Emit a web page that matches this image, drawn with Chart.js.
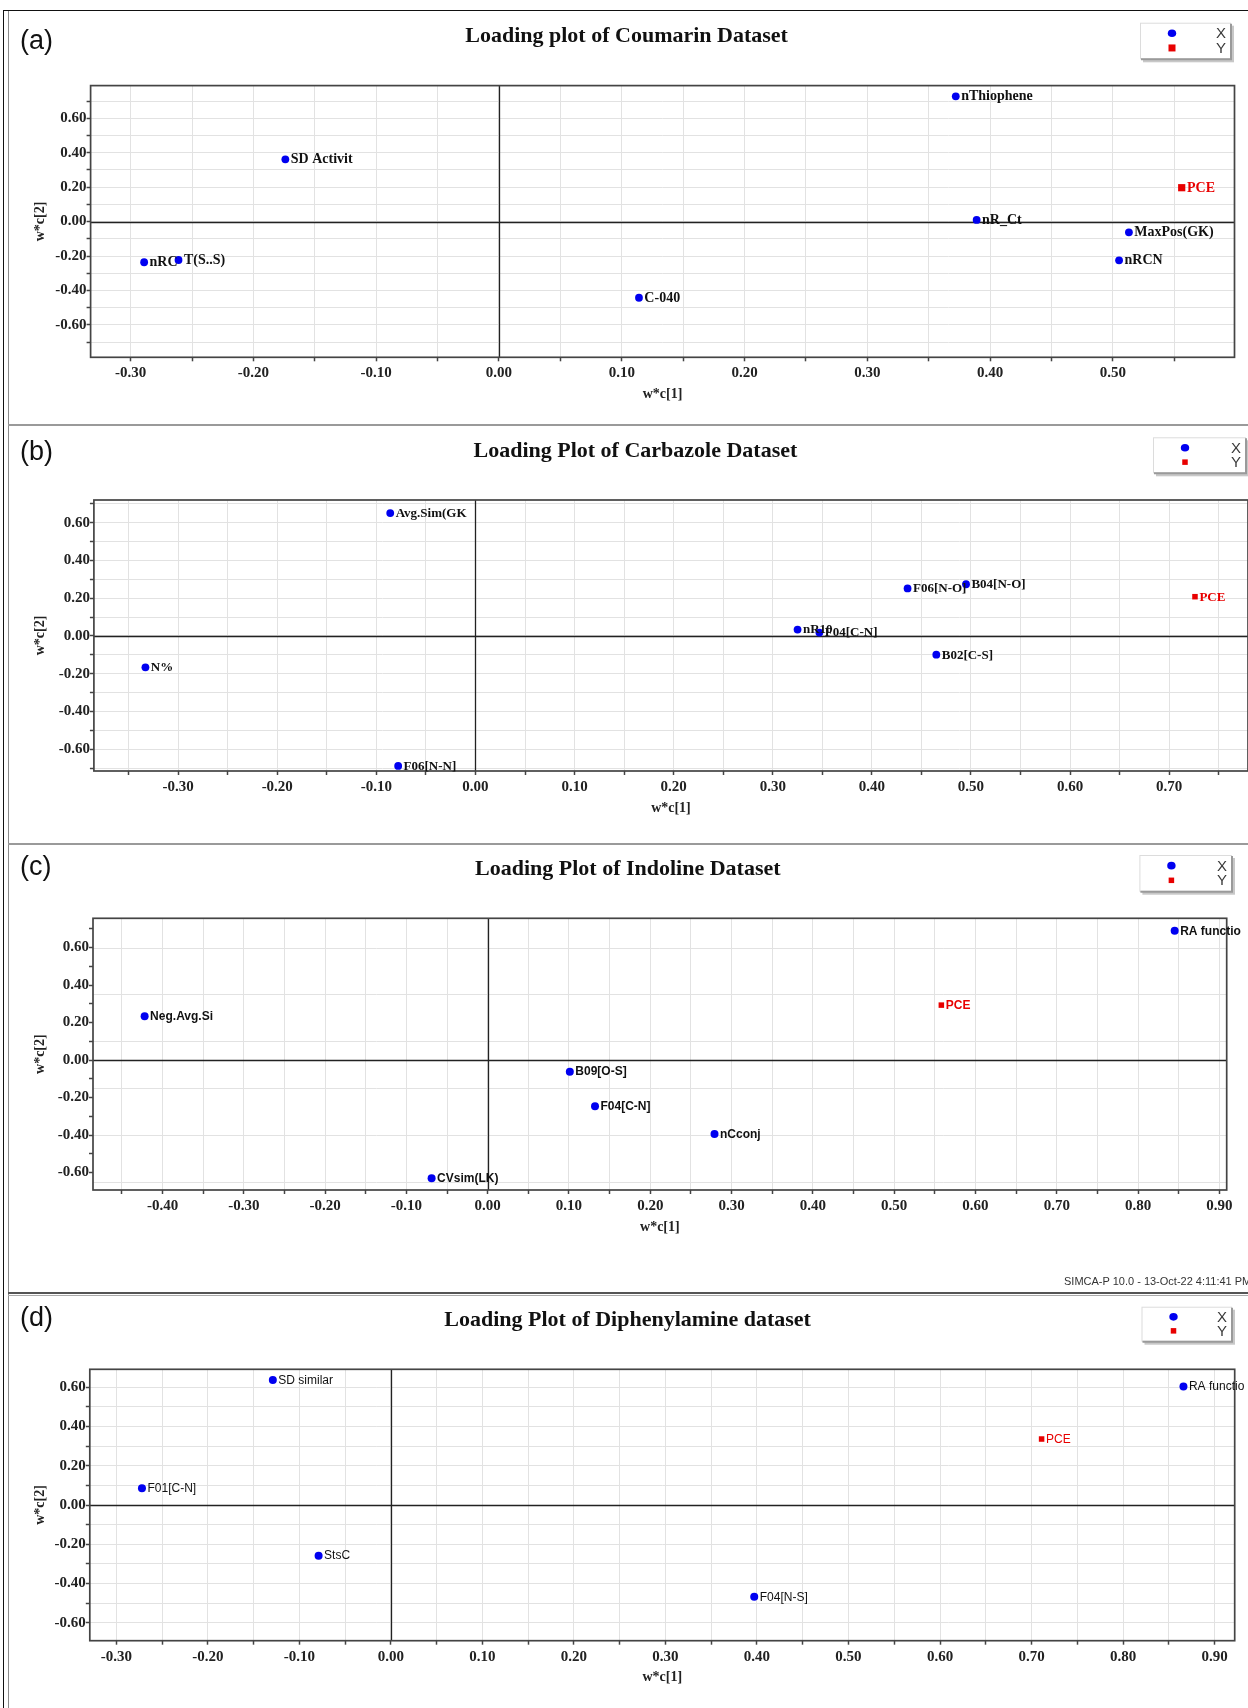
<!DOCTYPE html>
<html>
<head>
<meta charset="utf-8">
<script src="https://cdn.jsdelivr.net/npm/chart.js@4.4.1/dist/chart.umd.min.js"></script>
<style>
html,body{margin:0;padding:0;background:#fff;overflow:hidden;width:1248px;height:1708px;}
#page{position:relative;width:1248px;height:1708px;overflow:hidden;background:#fff;}
canvas{position:absolute;left:0;}
.ln{position:absolute;}
.letter{position:absolute;left:20px;font-family:"Liberation Sans",Arial,sans-serif;font-size:27px;line-height:27px;color:#111;}
.stamp{position:absolute;left:1064px;top:1275px;font-family:"Liberation Sans",Arial,sans-serif;font-size:11px;line-height:13px;color:#333;white-space:nowrap;}
</style>
</head>
<body>
<div id="page">
  <div class="ln" style="left:3px;top:10px;width:1245px;height:1px;background:#111"></div>
  <div class="ln" style="left:3px;top:10px;width:1px;height:1698px;background:#111"></div>
  <div class="ln" style="left:8px;top:11px;width:1px;height:1697px;background:#8a8a8a"></div>
  <div class="ln" style="left:8px;top:424px;width:1240px;height:2px;background:#9a9a9a"></div>
  <div class="ln" style="left:8px;top:843px;width:1240px;height:2px;background:#9a9a9a"></div>
  <div class="ln" style="left:8px;top:1292px;width:1240px;height:2px;background:#555"></div>
  <div class="ln" style="left:8px;top:1295px;width:1240px;height:1px;background:#aaa"></div>

  <canvas id="ca" width="1248" height="414" style="top:11px"></canvas>
  <canvas id="cb" width="1252" height="416" style="top:427px"></canvas>
  <canvas id="cc" width="1248" height="446" style="top:846px"></canvas>
  <canvas id="cd" width="1248" height="410" style="top:1298px"></canvas>

  <div class="letter" style="top:27px">(a)</div>
  <div class="letter" style="top:438px">(b)</div>
  <div class="letter" style="top:853px">(c)</div>
  <div class="letter" style="top:1304px">(d)</div>
  <div class="stamp">SIMCA-P 10.0 - 13-Oct-22 4:11:41 PM</div>
</div>
<script>
// ---------- DATA ----------
// (a) Coumarin dataset
const coumarinNames = ['SD Activit', 'nRC', 'T(S..S)', 'C-040', 'nThiophene', 'nR_Ct', 'MaxPos(GK)', 'nRCN'];
const coumarinW1 = [-0.174, -0.289, -0.261, 0.114, 0.372, 0.389, 0.513, 0.505];
const coumarinW2 = [0.362, -0.236, -0.223, -0.442, 0.728, 0.010, -0.062, -0.225];
const coumarinPCE = [0.556, 0.197];

// (b) Carbazole dataset
const carbazoleNames = ['Avg.Sim(GK', 'N%', 'F06[N-N]', 'F06[N-O]', 'B04[N-O]', 'nR10', 'F04[C-N]', 'B02[C-S]'];
const carbazoleW1 = [-0.086, -0.333, -0.078, 0.436, 0.495, 0.325, 0.347, 0.465];
const carbazoleW2 = [0.651, -0.166, -0.688, 0.252, 0.274, 0.034, 0.018, -0.099];
const carbazolePCE = [0.726, 0.208];

// (c) Indoline dataset
const indolineNames = ['Neg.Avg.Si', 'CVsim(LK)', 'B09[O-S]', 'F04[C-N]', 'nCconj', 'RA functio'];
const indolineW1 = [-0.422, -0.069, 0.101, 0.132, 0.279, 0.845];
const indolineW2 = [0.233, -0.630, -0.062, -0.247, -0.394, 0.689];
const indolinePCE = [0.558, 0.293];

// (d) Diphenylamine dataset
const diphenylNames = ['SD similar', 'F01[C-N]', 'StsC', 'F04[N-S]', 'RA functio'];
const diphenylW1 = [-0.129, -0.272, -0.079, 0.397, 0.866];
const diphenylW2 = [0.637, 0.085, -0.258, -0.467, 0.603];
const diphenylPCE = [0.711, 0.336];

const xSeriesName = 'X';
const ySeriesName = 'Y';
const yTargetName = 'PCE';

// ---------- STYLE / LAYOUT ----------
const SERIF = '"Liberation Serif","Times New Roman",serif';
const SANS = '"Liberation Sans",Arial,sans-serif';
const BLUE = '#0000f0';
const RED = '#e80000';
const YW = 60, XH = 40;

const panels = [
  { id: 'ca', top: 11, h: 414, w: 1248, area: {l: 90.6, t: 85.6, r: 1234.5, b: 357.3},
    xr: [-0.3326, 0.599], yr: [-0.788, 0.79],
    title: 'Loading plot of Coumarin Dataset', tpos: [626.6, 36.7],
    legend: {x1: 1140, y1: 22.7, x2: 1231, y2: 59.3}, legSq: 7,
    labelFont: 'bold 14px ' + SERIF, ptR: 3.9, sqR: 5.1,
    names: coumarinNames, w1: coumarinW1, w2: coumarinW2, pce: coumarinPCE, extraGrid: null },
  { id: 'cb', top: 427, h: 416, w: 1252, area: {l: 93.9, t: 500, r: 1250, b: 771},
    xr: [-0.385, 0.7795], yr: [-0.715, 0.72],
    title: 'Loading Plot of Carbazole Dataset', tpos: [635.4, 451.7],
    legend: {x1: 1153, y1: 437.3, x2: 1246, y2: 473.3}, legSq: 5.5,
    labelFont: 'bold 13px ' + SERIF, ptR: 3.9, sqR: 3.9,
    names: carbazoleNames, w1: carbazoleW1, w2: carbazoleW2, pce: carbazolePCE, extraGrid: null },
  { id: 'cc', top: 846, h: 446, w: 1248, area: {l: 93, t: 918.3, r: 1226.7, b: 1190},
    xr: [-0.4855, 0.909], yr: [-0.693, 0.756],
    title: 'Loading Plot of Indoline Dataset', tpos: [627.8, 869.3],
    legend: {x1: 1139.4, y1: 855, x2: 1232, y2: 891.7}, legSq: 5.5,
    labelFont: 'bold 12px ' + SANS, ptR: 4, sqR: 3.9,
    names: indolineNames, w1: indolineW1, w2: indolineW2, pce: indolinePCE,
    extraGrid: [0.6, 0.35, 0.1, -0.15, -0.4, -0.65] },
  { id: 'cd', top: 1298, h: 410, w: 1248, area: {l: 89.8, t: 1369.3, r: 1234.7, b: 1640.7},
    xr: [-0.329, 0.922], yr: [-0.691, 0.691],
    title: 'Loading Plot of Diphenylamine dataset', tpos: [627.6, 1320],
    legend: {x1: 1141.5, y1: 1306.7, x2: 1232, y2: 1341.7}, legSq: 5.5,
    labelFont: '12px ' + SANS, ptR: 4, sqR: 3.9,
    names: diphenylNames, w1: diphenylW1, w2: diphenylW2, pce: diphenylPCE, extraGrid: null }
];

const decor = {
  id: 'decor',
  beforeDatasetsDraw(chart, args, o) {
    const {ctx, chartArea: a, scales: {x, y}} = chart;
    ctx.save();
    if (o.extraGrid) {
      ctx.strokeStyle = '#e2e2e2';
      ctx.lineWidth = 1;
      for (const v of o.extraGrid) {
        const py = Math.round(y.getPixelForValue(v)) + 0.5;
        ctx.beginPath(); ctx.moveTo(a.left, py); ctx.lineTo(a.right, py); ctx.stroke();
      }
    }
    ctx.strokeStyle = '#222';
    ctx.lineWidth = 1.3;
    const x0 = Math.round(x.getPixelForValue(0)) + 0.5;
    const y0 = Math.round(y.getPixelForValue(0)) + 0.5;
    ctx.beginPath(); ctx.moveTo(x0, a.top); ctx.lineTo(x0, a.bottom); ctx.stroke();
    ctx.beginPath(); ctx.moveTo(a.left, y0); ctx.lineTo(a.right, y0); ctx.stroke();
    ctx.strokeStyle = '#444';
    ctx.lineWidth = 1.7;
    ctx.strokeRect(a.left, a.top, a.right - a.left, a.bottom - a.top);
    ctx.restore();
  },
  afterDatasetsDraw(chart, args, o) {
    const {ctx, chartArea: a} = chart;
    const T = o.top;
    ctx.save();
    // point labels
    ctx.textBaseline = 'middle';
    ctx.textAlign = 'left';
    ctx.font = o.labelFont;
    chart.data.datasets.forEach((ds, i) => {
      const meta = chart.getDatasetMeta(i);
      ctx.fillStyle = ds.labelColor;
      meta.data.forEach((pt, j) => {
        ctx.fillText(ds.names[j], pt.x + ds.pointRadius * (ds.pointStyle === 'rect' ? 0.75 : 1) + 1.5, pt.y + 0.5);
      });
    });
    // title
    ctx.fillStyle = '#111';
    ctx.font = 'bold 22px ' + SERIF;
    ctx.textAlign = 'center';
    ctx.fillText(o.title, o.tpos[0], o.tpos[1] - T);
    // axis titles
    ctx.font = 'bold 14px ' + SERIF;
    ctx.fillStyle = '#222';
    ctx.fillText('w*c[1]', (a.left + Math.min(a.right, 1248)) / 2, a.bottom + 37);
    ctx.save();
    ctx.translate(40, (a.top + a.bottom) / 2);
    ctx.rotate(-Math.PI / 2);
    ctx.fillText('w*c[2]', 0, 0);
    ctx.restore();
    // legend
    const L = o.legend;
    const lx1 = L.x1, lx2 = L.x2, ly1 = L.y1 - T, ly2 = L.y2 - T;
    ctx.fillStyle = '#c8c8c8';
    ctx.fillRect(lx1 + 3, ly1 + 3, lx2 - lx1, ly2 - ly1);
    ctx.fillStyle = '#fff';
    ctx.fillRect(lx1, ly1, lx2 - lx1, ly2 - ly1);
    ctx.strokeStyle = '#dcdcdc';
    ctx.lineWidth = 1;
    ctx.strokeRect(lx1 + 0.5, ly1 + 0.5, lx2 - lx1 - 1, ly2 - ly1 - 1);
    ctx.strokeStyle = '#9a9a9a';
    ctx.lineWidth = 2;
    ctx.beginPath();
    ctx.moveTo(lx2, ly1 + 1); ctx.lineTo(lx2, ly2); ctx.lineTo(lx1 + 1, ly2);
    ctx.stroke();
    const r1 = ly1 + (ly2 - ly1) * 0.29, r2 = ly1 + (ly2 - ly1) * 0.69;
    const mx = lx1 + 32;
    ctx.fillStyle = BLUE;
    ctx.beginPath(); ctx.ellipse(mx, r1, 4.2, 3.8, 0, 0, Math.PI * 2); ctx.fill();
    ctx.fillStyle = RED;
    ctx.fillRect(mx - o.legSq / 2, r2 - o.legSq / 2, o.legSq, o.legSq);
    ctx.fillStyle = '#3a3a3a';
    ctx.font = '15px ' + SANS;
    ctx.textAlign = 'center';
    ctx.fillText(xSeriesName, lx2 - 10, r1 + 1);
    ctx.fillText(ySeriesName, lx2 - 10, r2 + 1);
    ctx.restore();
  }
};

function fmt2(v) { const s = v.toFixed(2); return s === '-0.00' ? '0.00' : s; }

panels.forEach(p => {
  const xPts = p.w1.map((v, i) => ({x: v, y: p.w2[i]}));
  const yPts = [{x: p.pce[0], y: p.pce[1]}];
  const tickFont = {family: SERIF, size: 15, weight: 'bold'};
  new Chart(document.getElementById(p.id), {
    type: 'scatter',
    data: {
      datasets: [
        { label: xSeriesName, data: xPts, names: p.names, labelColor: '#111',
          pointStyle: 'circle', pointRadius: p.ptR, backgroundColor: BLUE, borderWidth: 0, clip: false },
        { label: ySeriesName, data: yPts, names: [yTargetName], labelColor: RED,
          pointStyle: 'rect', pointRadius: p.sqR, backgroundColor: RED, borderWidth: 0, clip: false }
      ]
    },
    options: {
      responsive: false,
      animation: false,
      devicePixelRatio: 1,
      events: [],
      layout: { padding: {
        left: p.area.l - YW, right: p.w - p.area.r,
        top: p.area.t - p.top, bottom: p.top + p.h - p.area.b - XH } },
      plugins: {
        legend: {display: false},
        tooltip: {enabled: false},
        title: {display: false},
        decor: { top: p.top, title: p.title, tpos: p.tpos, legend: p.legend, legSq: p.legSq,
                 labelFont: p.labelFont, extraGrid: p.extraGrid }
      },
      scales: {
        x: {
          type: 'linear', position: 'bottom', min: p.xr[0], max: p.xr[1],
          afterFit: s => { s.height = XH; },
          border: {display: false},
          grid: { color: '#e2e2e2', lineWidth: 1, tickLength: 4, tickColor: '#444', tickWidth: 1.5 },
          ticks: { stepSize: 0.05, includeBounds: false, autoSkip: false, maxRotation: 0, minRotation: 0,
                   padding: 3, color: '#222', font: tickFont,
                   callback: v => (Math.round(v * 20) % 2 === 0 ? fmt2(v) : '') }
        },
        y: {
          type: 'linear', position: 'left', min: p.yr[0], max: p.yr[1],
          afterFit: s => { s.width = YW; },
          border: {display: false},
          grid: { color: p.extraGrid ? 'rgba(0,0,0,0)' : '#e2e2e2', lineWidth: 1, tickLength: 4, tickColor: '#444', tickWidth: 1.5 },
          ticks: { stepSize: 0.1, includeBounds: false, autoSkip: false, padding: 0, color: '#222', font: tickFont,
                   callback: v => (Math.round(v * 10) % 2 === 0 ? fmt2(v) : '') }
        }
      }
    },
    plugins: [decor]
  });
});
</script>
</body>
</html>
